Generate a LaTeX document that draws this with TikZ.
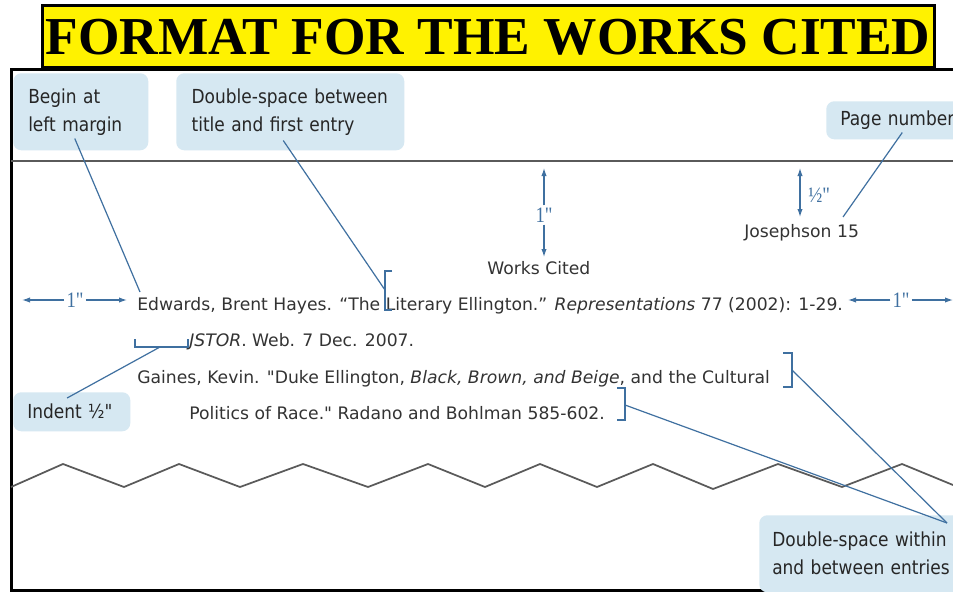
\documentclass[tikz,border=0pt]{standalone}
\usepackage{fontspec}
\setmainfont{DejaVu Sans}[Ligatures=TeXOff]
\newfontfamily\titlefont{Liberation Serif}
\newfontfamily\notefont[FakeStretch=0.88]{DejaVu Sans}
\newfontfamily\dimfont[Ligatures=TeXOff, FakeStretch=0.85]{Liberation Serif}
\usetikzlibrary{arrows.meta}
\definecolor{notefill}{HTML}{D6E8F2}
\definecolor{leadblue}{HTML}{3F70A0}
\definecolor{bodygray}{HTML}{333333}
\definecolor{rulegray}{HTML}{5A5A5A}
\tikzset{
  titlebox/.style = {draw=black, line width=2.25pt, fill=yellow, inner sep=0pt,
                     minimum width=669pt, minimum height=46.5pt,
                     font=\titlefont\bfseries\fontsize{40}{40}\selectfont},
  callout/.style  = {fill=notefill, rounded corners=6pt, anchor=north west, align=left,
                     inner ysep=0pt, text=black!85,
                     font=\notefont\fontsize{14.5}{21}\selectfont},
  entry/.style    = {anchor=base west, inner sep=0pt, text=bodygray,
                     font=\fontsize{12.9}{15}\selectfont},
  leader/.style   = {draw=leadblue, line width=0.9pt},
  dimarrow/.style = {draw=leadblue, line width=0.9pt, -{Latex[length=6pt,width=4pt]}},
  dimlabel/.style = {text=leadblue, inner sep=1.5pt, font=\dimfont\fontsize{16.5}{16.5}\selectfont}
}

\begin{document}
\begin{tikzpicture}[x=0.75pt, y=-0.75pt]
  \useasboundingbox (0,0) rectangle (953,592);
  % page and title
  \draw[line width=2.25pt, fill=white] (11,70) rectangle (970,590);
  \node[titlebox] (title) at (488,37) {FORMAT FOR THE WORKS CITED};
  \draw[rulegray, line width=1.6pt] (11,161) -- (970,161);
  \draw[rulegray, line width=1.3pt] (11,487) -- (63,464) -- (124,487) -- (179,464)
    -- (240,487) -- (303,464) -- (368,487) -- (428,464) -- (485,487) -- (540,464)
    -- (597,487) -- (653,464) -- (713,489) -- (778,464) -- (842,487) -- (902,464)
    -- (970,492);

  % callouts
  \node[callout, inner xsep=11.25pt, text width=78.75pt, minimum height=57.75pt]
    (beginnote) at (13,73) {Begin at\\left margin};
  \node[callout, inner xsep=11.5pt, text width=148pt, minimum height=57.75pt]
    (dsnote) at (176,73) {Double-space between\\title and first entry};
  \node[callout, inner xsep=10.5pt, text width=99pt, minimum height=28.5pt]
    (pagenote) at (826,101) {Page number};
  \node[callout, inner xsep=10.5pt, text width=66.75pt, minimum height=29.25pt]
    (indentnote) at (13,392) {Indent ½"};
  \node[callout, inner xsep=9.75pt, text width=160pt, minimum height=57.75pt]
    (withinnote) at (759,515) {Double-space within\\and between entries};

  % page text
  \node[entry] (header) at (744,237) {Josephson 15};
  \node[entry] (heading) at (487,274) {Works Cited};
  \node[entry] (edwards) at (137,310)
    {Edwards, Brent Hayes. “The Literary Ellington.” \textit{Representations} 77 (2002): 1-29.};
  \node[entry] (jstor) at (189,346) {\textit{JSTOR}. Web. 7 Dec. 2007.};
  \node[entry] (gaines) at (137,383)
    {Gaines, Kevin. "Duke Ellington, \textit{Black, Brown, and Beige}, and the Cultural};
  \node[entry] (politics) at (189,419) {Politics of Race." Radano and Bohlman 585-602.};

  % margins
  \node[dimlabel] (leftin) at (75,300) {1"};
  \coordinate (leftL) at (22,302);
  \coordinate (leftR) at (127,302);
  \draw[dimarrow] (leftin) -- (leftL |- leftin);
  \draw[dimarrow] (leftin) -- (leftR |- leftin);
  \node[dimlabel] (rightin) at (901,300) {1"};
  \coordinate (rightL) at (848,302);
  \coordinate (rightR) at (953,302);
  \draw[dimarrow] (rightin) -- (rightL |- rightin);
  \draw[dimarrow] (rightin) -- (rightR |- rightin);
  \node[dimlabel] (topin) at (544,215) {1"};
  \coordinate (topT) at (544,168);
  \coordinate (topB) at (544,257);
  \draw[dimarrow] (topin) -- (topT);
  \draw[dimarrow] (topin) -- (topB);
  \coordinate (halfT) at (800,168);
  \coordinate (halfB) at (800,217);
  \draw[dimarrow, {Latex[length=6pt,width=4pt]}-{Latex[length=6pt,width=4pt]}] (halfT) -- (halfB);
  \node[dimlabel, anchor=west] (halfin) at (806,195) {½"};

  % brackets
  \draw[leader] (392,271) -- (385,271) -- (385,310) -- (392,310);
  \coordinate (brLit) at (385,290);
  \draw[leader] (135,339) -- (135,347) -- (188,347) -- (188,339);
  \coordinate (brInd) at (160,347);
  \draw[leader] (783,353) -- (792,353) -- (792,387) -- (783,387);
  \coordinate (brCult) at (792,370);
  \draw[leader] (617,388) -- (625,388) -- (625,420) -- (617,420);
  \coordinate (brPol) at (625,405);
  \coordinate (pageTip) at (843,217);

  % leaders
  \draw[leader] ([xshift=-4.5pt, yshift=9pt]beginnote.south) -- (140,292);
  \draw[leader] ([xshift=-5.25pt, yshift=7.5pt]dsnote.south) -- (brLit);
  \draw[leader] ([xshift=-3pt, yshift=5.25pt]pagenote.south) -- (pageTip);
  \draw[leader] (brInd) -- ([xshift=-3.5pt, yshift=-4.5pt]indentnote.north);
  \draw[leader] (brCult) -- ([xshift=141pt, yshift=-6pt]withinnote.north west);
  \draw[leader] (brPol) -- ([xshift=141pt, yshift=-6pt]withinnote.north west);
\end{tikzpicture}
\end{document}
